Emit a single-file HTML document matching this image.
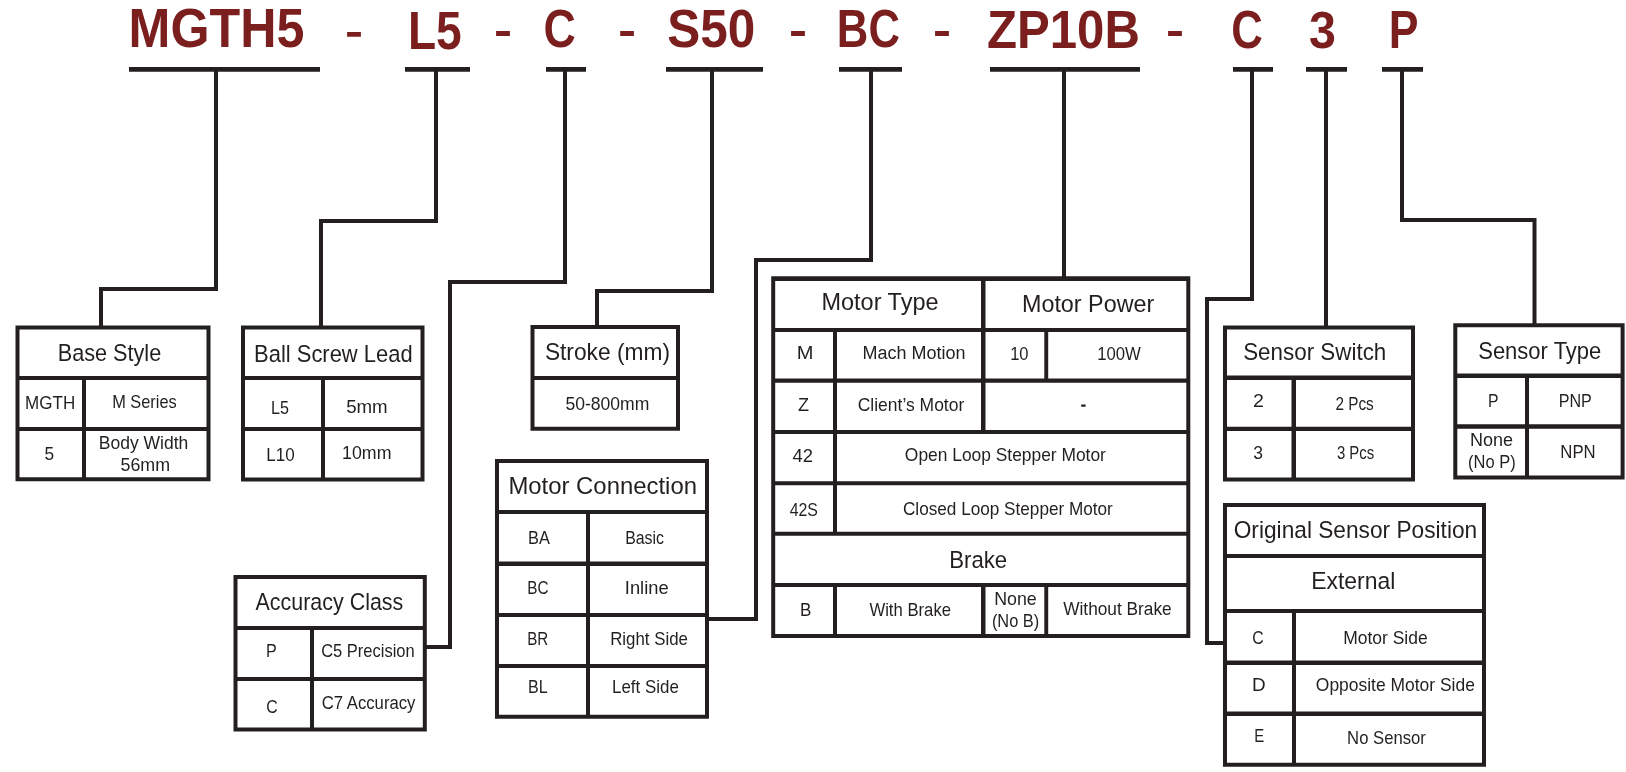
<!DOCTYPE html><html><head><meta charset="utf-8"><style>html,body{margin:0;padding:0;background:#fff;width:1626px;height:772px;overflow:hidden}svg{display:block;will-change:transform}text{font-family:"Liberation Sans",sans-serif}</style></head><body>
<svg width="1626" height="772" viewBox="0 0 1626 772">
<rect x="0" y="0" width="1626" height="772" fill="#fff"/>
<path fill="#231f20" fill-rule="nonzero" d="M129.00 67.00h191.00v4.80h-191.00zM405.00 67.00h65.00v4.80h-65.00zM546.00 67.00h40.00v4.80h-40.00zM666.00 67.00h97.00v4.80h-97.00zM839.00 67.00h63.00v4.80h-63.00zM990.00 67.00h150.00v4.80h-150.00zM1233.00 67.00h40.00v4.80h-40.00zM1306.00 67.00h41.00v4.80h-41.00zM1382.00 67.00h41.00v4.80h-41.00zM214.00 71.00h4.00v220.00h-4.00zM99.00 287.00h119.00v4.00h-119.00zM99.00 287.00h4.00v39.00h-4.00zM434.00 71.00h4.00v152.00h-4.00zM319.00 219.00h119.00v4.00h-119.00zM319.00 219.00h4.00v107.00h-4.00zM563.00 71.00h4.00v213.00h-4.00zM448.00 280.00h119.00v4.00h-119.00zM448.00 280.00h4.00v369.00h-4.00zM425.00 645.00h27.00v4.00h-27.00zM710.00 71.00h4.00v222.00h-4.00zM595.00 289.00h119.00v4.00h-119.00zM595.00 289.00h4.00v37.00h-4.00zM869.00 71.00h4.00v191.00h-4.00zM754.00 258.00h119.00v4.00h-119.00zM754.00 258.00h4.00v363.00h-4.00zM707.00 617.00h51.00v4.00h-51.00zM1062.00 71.00h4.00v206.00h-4.00zM1250.00 71.00h4.00v230.00h-4.00zM1205.00 297.00h49.00v4.00h-49.00zM1205.00 297.00h4.00v348.00h-4.00zM1205.00 641.00h19.00v4.00h-19.00zM1324.00 71.00h4.00v255.00h-4.00zM1400.00 71.00h4.00v151.00h-4.00zM1400.00 218.00h136.50v4.00h-136.50zM1532.50 218.00h4.00v106.00h-4.00zM15.50 325.50h195.00v4.00h-195.00zM15.50 477.30h195.00v4.00h-195.00zM15.50 325.50h4.00v155.80h-4.00zM206.50 325.50h4.00v155.80h-4.00zM15.50 376.00h195.00v4.00h-195.00zM15.50 427.00h195.00v4.00h-195.00zM82.00 376.00h4.00v105.00h-4.00zM241.00 325.50h183.50v4.00h-183.50zM241.00 477.50h183.50v4.00h-183.50zM241.00 325.50h4.00v156.00h-4.00zM420.50 325.50h4.00v156.00h-4.00zM241.00 376.00h183.50v4.00h-183.50zM241.00 427.00h183.50v4.00h-183.50zM321.00 376.00h4.00v105.00h-4.00zM233.50 575.00h193.30v4.00h-193.30zM233.50 727.50h193.30v4.00h-193.30zM233.50 575.00h4.00v156.50h-4.00zM422.80 575.00h4.00v156.50h-4.00zM233.50 626.00h193.30v4.00h-193.30zM233.50 677.00h193.30v4.00h-193.30zM310.00 626.00h4.00v105.00h-4.00zM530.50 325.00h149.50v4.00h-149.50zM530.50 426.70h149.50v4.00h-149.50zM530.50 325.00h4.00v105.70h-4.00zM676.00 325.00h4.00v105.70h-4.00zM530.50 376.00h149.50v4.00h-149.50zM495.00 459.00h214.00v4.00h-214.00zM495.00 714.70h214.00v4.00h-214.00zM495.00 459.00h4.00v259.70h-4.00zM705.00 459.00h4.00v259.70h-4.00zM495.00 510.00h214.00v4.00h-214.00zM495.00 561.50h214.00v4.50h-214.00zM495.00 613.00h214.00v4.00h-214.00zM495.00 664.00h214.00v4.00h-214.00zM586.00 510.00h4.00v208.00h-4.00zM771.20 276.30h419.10v4.80h-419.10zM771.20 634.00h419.10v4.00h-419.10zM771.20 276.30h4.00v361.70h-4.00zM1186.30 276.30h4.00v361.70h-4.00zM771.20 328.00h419.10v4.00h-419.10zM771.20 378.60h419.10v4.20h-419.10zM771.20 430.10h419.10v4.00h-419.10zM771.20 481.20h419.10v4.00h-419.10zM771.20 531.70h419.10v4.10h-419.10zM771.20 583.10h419.10v3.90h-419.10zM981.00 276.30h4.50v157.80h-4.50zM981.00 583.10h4.50v54.90h-4.50zM833.00 328.00h4.00v207.80h-4.00zM833.00 583.10h4.00v54.90h-4.00zM1044.30 328.00h3.90v54.80h-3.90zM1044.30 583.10h3.90v54.90h-3.90zM1223.00 325.50h192.00v4.00h-192.00zM1223.00 477.50h192.00v4.00h-192.00zM1223.00 325.50h4.00v156.00h-4.00zM1411.00 325.50h4.00v156.00h-4.00zM1223.00 375.50h192.00v4.50h-192.00zM1223.00 426.70h192.00v4.30h-192.00zM1291.50 376.00h4.50v105.00h-4.50zM1453.30 323.30h171.30v4.00h-171.30zM1453.30 475.50h171.30v4.00h-171.30zM1453.30 323.30h4.00v156.20h-4.00zM1620.60 323.30h4.00v156.20h-4.00zM1453.30 373.50h171.30v4.50h-171.30zM1453.30 424.30h171.30v4.50h-171.30zM1525.00 374.00h4.00v105.00h-4.00zM1223.00 503.00h263.00v4.00h-263.00zM1223.00 762.70h263.00v4.00h-263.00zM1223.00 503.00h4.00v263.70h-4.00zM1482.00 503.00h4.00v263.70h-4.00zM1223.00 554.00h263.00v4.00h-263.00zM1223.00 609.00h263.00v4.00h-263.00zM1223.00 660.50h263.00v4.50h-263.00zM1223.00 711.50h263.00v4.50h-263.00zM1292.00 610.00h4.00v156.00h-4.00zM1081.20 404.60h4.40v2.20h-4.40z"/>
<path fill="#7a1e1e" fill-rule="nonzero" d="M347.10 32.00h13.80v4.80h-13.80zM496.10 31.00h13.80v4.90h-13.80zM620.20 31.00h13.70v4.90h-13.70zM791.10 31.00h13.80v4.90h-13.80zM935.10 31.00h13.80v4.90h-13.80zM1168.10 31.00h13.80v4.90h-13.80z"/>
<text x="128.61" y="46.90" font-size="54.94" font-weight="bold" fill="#7a1e1e" textLength="175.77" lengthAdjust="spacingAndGlyphs">MGTH5</text>
<text x="407.89" y="48.80" font-size="54.51" font-weight="bold" fill="#7a1e1e" textLength="53.77" lengthAdjust="spacingAndGlyphs">L5</text>
<text x="543.51" y="47.40" font-size="54.36" font-weight="bold" fill="#7a1e1e" textLength="32.31" lengthAdjust="spacingAndGlyphs">C</text>
<text x="667.32" y="47.40" font-size="54.36" font-weight="bold" fill="#7a1e1e" textLength="87.95" lengthAdjust="spacingAndGlyphs">S50</text>
<text x="836.85" y="47.30" font-size="54.22" font-weight="bold" fill="#7a1e1e" textLength="63.12" lengthAdjust="spacingAndGlyphs">BC</text>
<text x="986.93" y="47.50" font-size="54.22" font-weight="bold" fill="#7a1e1e" textLength="152.98" lengthAdjust="spacingAndGlyphs">ZP10B</text>
<text x="1231.25" y="47.50" font-size="54.22" font-weight="bold" fill="#7a1e1e" textLength="31.64" lengthAdjust="spacingAndGlyphs">C</text>
<text x="1309.01" y="47.60" font-size="52.04" font-weight="bold" fill="#7a1e1e" textLength="26.94" lengthAdjust="spacingAndGlyphs">3</text>
<text x="1388.69" y="47.60" font-size="53.93" font-weight="bold" fill="#7a1e1e" textLength="29.75" lengthAdjust="spacingAndGlyphs">P</text>
<text x="57.71" y="360.70" font-size="23.84" font-weight="normal" fill="#231f20" textLength="103.52" lengthAdjust="spacingAndGlyphs">Base Style</text>
<text x="25.10" y="408.70" font-size="17.88" font-weight="normal" fill="#231f20" textLength="50.09" lengthAdjust="spacingAndGlyphs">MGTH</text>
<text x="112.15" y="408.30" font-size="17.88" font-weight="normal" fill="#231f20" textLength="64.63" lengthAdjust="spacingAndGlyphs">M Series</text>
<text x="44.51" y="459.80" font-size="17.88" font-weight="normal" fill="#231f20" textLength="9.60" lengthAdjust="spacingAndGlyphs">5</text>
<text x="98.75" y="448.80" font-size="17.88" font-weight="normal" fill="#231f20" textLength="89.60" lengthAdjust="spacingAndGlyphs">Body Width</text>
<text x="120.49" y="470.80" font-size="17.88" font-weight="normal" fill="#231f20" textLength="49.59" lengthAdjust="spacingAndGlyphs">56mm</text>
<text x="254.09" y="361.80" font-size="23.84" font-weight="normal" fill="#231f20" textLength="158.51" lengthAdjust="spacingAndGlyphs">Ball Screw Lead</text>
<text x="271.07" y="413.60" font-size="17.88" font-weight="normal" fill="#231f20" textLength="17.91" lengthAdjust="spacingAndGlyphs">L5</text>
<text x="346.15" y="413.20" font-size="17.88" font-weight="normal" fill="#231f20" textLength="41.56" lengthAdjust="spacingAndGlyphs">5mm</text>
<text x="266.19" y="461.00" font-size="17.88" font-weight="normal" fill="#231f20" textLength="28.46" lengthAdjust="spacingAndGlyphs">L10</text>
<text x="342.07" y="459.20" font-size="17.88" font-weight="normal" fill="#231f20" textLength="49.40" lengthAdjust="spacingAndGlyphs">10mm</text>
<text x="255.55" y="609.60" font-size="23.84" font-weight="normal" fill="#231f20" textLength="147.72" lengthAdjust="spacingAndGlyphs">Accuracy Class</text>
<text x="266.07" y="656.80" font-size="17.88" font-weight="normal" fill="#231f20" textLength="10.77" lengthAdjust="spacingAndGlyphs">P</text>
<text x="321.18" y="656.80" font-size="17.88" font-weight="normal" fill="#231f20" textLength="93.52" lengthAdjust="spacingAndGlyphs">C5 Precision</text>
<text x="266.21" y="712.80" font-size="17.88" font-weight="normal" fill="#231f20" textLength="11.42" lengthAdjust="spacingAndGlyphs">C</text>
<text x="321.66" y="709.40" font-size="17.88" font-weight="normal" fill="#231f20" textLength="93.79" lengthAdjust="spacingAndGlyphs">C7 Accuracy</text>
<text x="544.88" y="359.50" font-size="23.84" font-weight="normal" fill="#231f20" textLength="125.15" lengthAdjust="spacingAndGlyphs">Stroke (mm)</text>
<text x="565.40" y="409.70" font-size="17.88" font-weight="normal" fill="#231f20" textLength="83.94" lengthAdjust="spacingAndGlyphs">50-800mm</text>
<text x="508.43" y="494.10" font-size="23.84" font-weight="normal" fill="#231f20" textLength="188.54" lengthAdjust="spacingAndGlyphs">Motor Connection</text>
<text x="528.05" y="544.00" font-size="17.88" font-weight="normal" fill="#231f20" textLength="21.88" lengthAdjust="spacingAndGlyphs">BA</text>
<text x="625.19" y="544.00" font-size="17.88" font-weight="normal" fill="#231f20" textLength="38.85" lengthAdjust="spacingAndGlyphs">Basic</text>
<text x="527.24" y="594.10" font-size="17.88" font-weight="normal" fill="#231f20" textLength="21.26" lengthAdjust="spacingAndGlyphs">BC</text>
<text x="624.81" y="594.00" font-size="17.88" font-weight="normal" fill="#231f20" textLength="43.79" lengthAdjust="spacingAndGlyphs">Inline</text>
<text x="527.25" y="644.70" font-size="17.88" font-weight="normal" fill="#231f20" textLength="21.06" lengthAdjust="spacingAndGlyphs">BR</text>
<text x="610.21" y="644.70" font-size="17.88" font-weight="normal" fill="#231f20" textLength="77.73" lengthAdjust="spacingAndGlyphs">Right Side</text>
<text x="528.07" y="693.30" font-size="17.88" font-weight="normal" fill="#231f20" textLength="19.66" lengthAdjust="spacingAndGlyphs">BL</text>
<text x="612.00" y="693.30" font-size="17.88" font-weight="normal" fill="#231f20" textLength="66.81" lengthAdjust="spacingAndGlyphs">Left Side</text>
<text x="821.46" y="309.70" font-size="23.84" font-weight="normal" fill="#231f20" textLength="117.07" lengthAdjust="spacingAndGlyphs">Motor Type</text>
<text x="1021.97" y="311.90" font-size="23.84" font-weight="normal" fill="#231f20" textLength="132.30" lengthAdjust="spacingAndGlyphs">Motor Power</text>
<text x="796.84" y="358.80" font-size="17.88" font-weight="normal" fill="#231f20" textLength="16.72" lengthAdjust="spacingAndGlyphs">M</text>
<text x="862.62" y="358.80" font-size="17.88" font-weight="normal" fill="#231f20" textLength="102.99" lengthAdjust="spacingAndGlyphs">Mach Motion</text>
<text x="1010.16" y="359.90" font-size="17.88" font-weight="normal" fill="#231f20" textLength="18.40" lengthAdjust="spacingAndGlyphs">10</text>
<text x="1097.15" y="359.90" font-size="17.88" font-weight="normal" fill="#231f20" textLength="43.63" lengthAdjust="spacingAndGlyphs">100W</text>
<text x="797.91" y="410.60" font-size="17.88" font-weight="normal" fill="#231f20" textLength="11.05" lengthAdjust="spacingAndGlyphs">Z</text>
<text x="857.73" y="410.60" font-size="17.88" font-weight="normal" fill="#231f20" textLength="106.54" lengthAdjust="spacingAndGlyphs">Client’s Motor</text>
<text x="792.49" y="462.00" font-size="17.88" font-weight="normal" fill="#231f20" textLength="20.48" lengthAdjust="spacingAndGlyphs">42</text>
<text x="904.87" y="461.20" font-size="17.88" font-weight="normal" fill="#231f20" textLength="201.00" lengthAdjust="spacingAndGlyphs">Open Loop Stepper Motor</text>
<text x="789.64" y="515.60" font-size="17.88" font-weight="normal" fill="#231f20" textLength="28.30" lengthAdjust="spacingAndGlyphs">42S</text>
<text x="902.94" y="514.90" font-size="17.88" font-weight="normal" fill="#231f20" textLength="209.91" lengthAdjust="spacingAndGlyphs">Closed Loop Stepper Motor</text>
<text x="949.27" y="567.80" font-size="23.84" font-weight="normal" fill="#231f20" textLength="57.92" lengthAdjust="spacingAndGlyphs">Brake</text>
<text x="800.09" y="616.00" font-size="17.88" font-weight="normal" fill="#231f20" textLength="11.40" lengthAdjust="spacingAndGlyphs">B</text>
<text x="869.42" y="615.70" font-size="17.88" font-weight="normal" fill="#231f20" textLength="81.60" lengthAdjust="spacingAndGlyphs">With Brake</text>
<text x="994.23" y="604.80" font-size="17.88" font-weight="normal" fill="#231f20" textLength="42.54" lengthAdjust="spacingAndGlyphs">None</text>
<text x="991.88" y="626.80" font-size="17.88" font-weight="normal" fill="#231f20" textLength="47.38" lengthAdjust="spacingAndGlyphs">(No B)</text>
<text x="1063.21" y="615.10" font-size="17.88" font-weight="normal" fill="#231f20" textLength="108.53" lengthAdjust="spacingAndGlyphs">Without Brake</text>
<text x="1243.19" y="360.40" font-size="23.84" font-weight="normal" fill="#231f20" textLength="143.10" lengthAdjust="spacingAndGlyphs">Sensor Switch</text>
<text x="1253.02" y="407.10" font-size="17.88" font-weight="normal" fill="#231f20" textLength="10.88" lengthAdjust="spacingAndGlyphs">2</text>
<text x="1335.43" y="409.70" font-size="17.88" font-weight="normal" fill="#231f20" textLength="38.32" lengthAdjust="spacingAndGlyphs">2 Pcs</text>
<text x="1253.34" y="458.90" font-size="17.88" font-weight="normal" fill="#231f20" textLength="9.72" lengthAdjust="spacingAndGlyphs">3</text>
<text x="1336.94" y="458.90" font-size="17.88" font-weight="normal" fill="#231f20" textLength="37.30" lengthAdjust="spacingAndGlyphs">3 Pcs</text>
<text x="1478.21" y="359.00" font-size="23.84" font-weight="normal" fill="#231f20" textLength="123.16" lengthAdjust="spacingAndGlyphs">Sensor Type</text>
<text x="1488.10" y="407.40" font-size="17.88" font-weight="normal" fill="#231f20" textLength="10.52" lengthAdjust="spacingAndGlyphs">P</text>
<text x="1558.67" y="407.40" font-size="17.88" font-weight="normal" fill="#231f20" textLength="33.16" lengthAdjust="spacingAndGlyphs">PNP</text>
<text x="1470.01" y="446.40" font-size="17.88" font-weight="normal" fill="#231f20" textLength="43.06" lengthAdjust="spacingAndGlyphs">None</text>
<text x="1468.07" y="468.00" font-size="17.88" font-weight="normal" fill="#231f20" textLength="47.59" lengthAdjust="spacingAndGlyphs">(No P)</text>
<text x="1560.32" y="458.00" font-size="17.88" font-weight="normal" fill="#231f20" textLength="35.34" lengthAdjust="spacingAndGlyphs">NPN</text>
<text x="1233.72" y="537.80" font-size="23.84" font-weight="normal" fill="#231f20" textLength="243.46" lengthAdjust="spacingAndGlyphs">Original Sensor Position</text>
<text x="1311.21" y="588.80" font-size="23.84" font-weight="normal" fill="#231f20" textLength="84.11" lengthAdjust="spacingAndGlyphs">External</text>
<text x="1252.21" y="643.80" font-size="17.88" font-weight="normal" fill="#231f20" textLength="11.42" lengthAdjust="spacingAndGlyphs">C</text>
<text x="1343.16" y="643.80" font-size="17.88" font-weight="normal" fill="#231f20" textLength="84.49" lengthAdjust="spacingAndGlyphs">Motor Side</text>
<text x="1252.14" y="691.30" font-size="17.88" font-weight="normal" fill="#231f20" textLength="13.65" lengthAdjust="spacingAndGlyphs">D</text>
<text x="1315.87" y="691.30" font-size="17.88" font-weight="normal" fill="#231f20" textLength="158.99" lengthAdjust="spacingAndGlyphs">Opposite Motor Side</text>
<text x="1254.17" y="742.00" font-size="17.88" font-weight="normal" fill="#231f20" textLength="9.96" lengthAdjust="spacingAndGlyphs">E</text>
<text x="1347.12" y="744.00" font-size="17.88" font-weight="normal" fill="#231f20" textLength="78.82" lengthAdjust="spacingAndGlyphs">No Sensor</text>
</svg></body></html>
